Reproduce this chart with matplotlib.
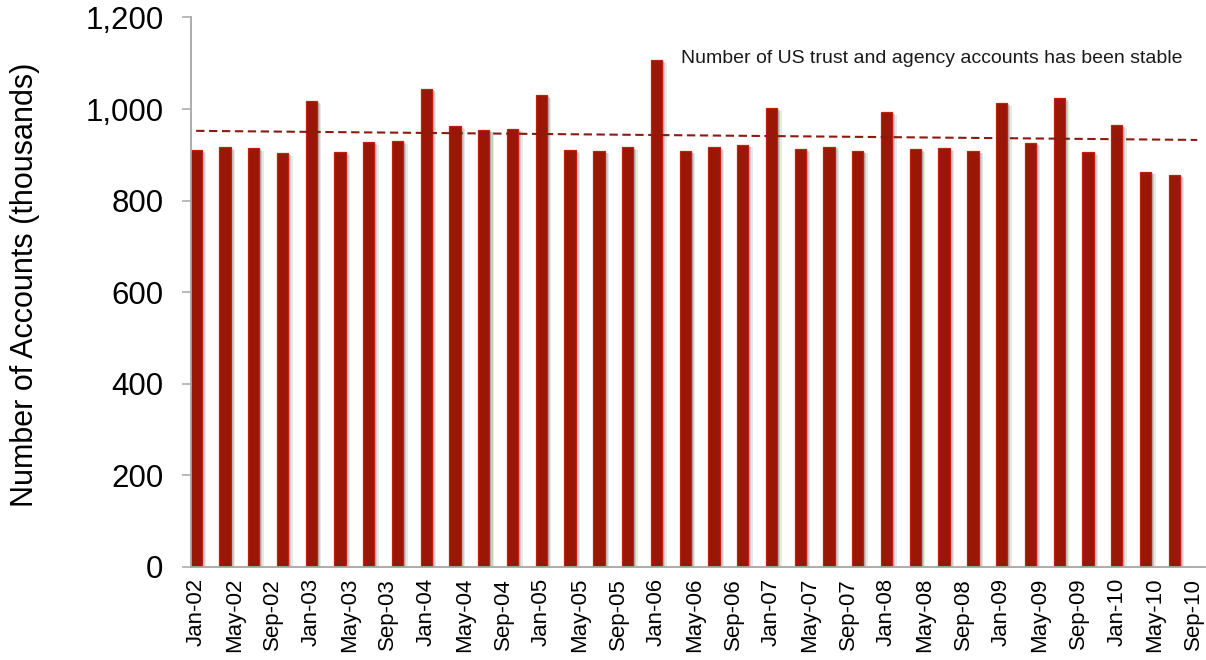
import numpy as np
import matplotlib
matplotlib.use("Agg")
import matplotlib.pyplot as plt
import matplotlib.patheffects as pe
from matplotlib.ticker import FuncFormatter

# Quarterly readings, Jan-02 through Jul-10 (thousands of accounts)
quarters = [
    "Jan-02", "Apr-02", "Jul-02", "Oct-02", "Jan-03", "Apr-03", "Jul-03", "Oct-03",
    "Jan-04", "Apr-04", "Jul-04", "Oct-04", "Jan-05", "Apr-05", "Jul-05", "Oct-05",
    "Jan-06", "Apr-06", "Jul-06", "Oct-06", "Jan-07", "Apr-07", "Jul-07", "Oct-07",
    "Jan-08", "Apr-08", "Jul-08", "Oct-08", "Jan-09", "Apr-09", "Jul-09", "Oct-09",
    "Jan-10", "Apr-10", "Jul-10",
]
accounts = [
    911, 917, 914, 904, 1018, 906, 928, 930,
    1043, 963, 955, 957, 1031, 911, 909, 917,
    1107, 909, 917, 922, 1002, 913, 918, 909,
    993, 913, 915, 909, 1013, 925, 1024, 906,
    964, 863, 855,
]
tick_labels = [
    "Jan-02", "May-02", "Sep-02", "Jan-03", "May-03", "Sep-03", "Jan-04", "May-04",
    "Sep-04", "Jan-05", "May-05", "Sep-05", "Jan-06", "May-06", "Sep-06", "Jan-07",
    "May-07", "Sep-07", "Jan-08", "May-08", "Sep-08", "Jan-09", "May-09", "Sep-09",
    "Jan-10", "May-10", "Sep-10",
]
y_ticks = [0, 200, 400, 600, 800, 1000, 1200]
note = "Number of US trust and agency accounts has been stable"
y_title = "Number of Accounts (thousands)"

MONTHS = {"Jan": 0, "Feb": 1, "Mar": 2, "Apr": 3, "May": 4, "Jun": 5,
          "Jul": 6, "Aug": 7, "Sep": 8, "Oct": 9, "Nov": 10, "Dec": 11}


def month_index(label):
    # months elapsed since Jan-02, so the axis behaves like a date axis
    return (int(label[-2:]) - 2) * 12 + MONTHS[label[:3]]


x_bars = np.array([month_index(q) for q in quarters], dtype=float)
x_ticks = np.array([month_index(t) for t in tick_labels], dtype=float)
values = np.array(accounts, dtype=float)

plt.rcParams["font.family"] = ["Liberation Sans", "DejaVu Sans"]

fig = plt.figure(figsize=(12.06, 6.6), dpi=100)
ax = fig.add_axes([0.1581, 0.1414, 0.8410, 0.8321])

bar_face = "#9a1607"
bar_edge = "#c21f0c"
shadow = [
    pe.SimplePatchShadow(offset=(1.2, -0.8), shadow_rgbFace="#707070", alpha=0.25),
    pe.SimplePatchShadow(offset=(2.2, -1.4), shadow_rgbFace="#707070", alpha=0.25),
    pe.SimplePatchShadow(offset=(3.2, -2.0), shadow_rgbFace="#909090", alpha=0.2),
    pe.Normal(),
]
bars = ax.bar(x_bars, values, width=1.18, color=bar_face,
              edgecolor=bar_edge, linewidth=0.9, zorder=2)
for b in bars:
    b.set_path_effects(shadow)

# linear trend across the full date range
slope, intercept = np.polyfit(x_bars, values, 1)
x_trend = np.array([x_bars[0], x_ticks[-1] + 0.4])
ax.plot(x_trend, slope * x_trend + intercept, color="#8c1a10", lw=1.5,
        linestyle=(0, (4, 2.2)), zorder=3)

ax.text(0.4834, 0.926, note, transform=ax.transAxes, ha="left", va="center",
        fontsize=14, color="#1a1a1a")

ax.set_xlim(-0.57, 105.2)
ax.set_ylim(0, 1200)
ax.set_yticks(y_ticks)
ax.yaxis.set_major_formatter(FuncFormatter(lambda v, p: f"{v:,.0f}"))
ax.set_xticks(x_ticks)
ax.set_xticklabels(tick_labels, rotation=90)

axis_grey = "#a6a6a6"
for side in ("top", "right"):
    ax.spines[side].set_visible(False)
for side in ("left", "bottom"):
    ax.spines[side].set_color(axis_grey)
    ax.spines[side].set_linewidth(1.3)
    ax.spines[side].set_zorder(4)

ax.tick_params(axis="y", direction="out", length=6.5, width=1.1,
               color=axis_grey, labelsize=22.5, pad=13)
ax.tick_params(axis="x", length=0, labelsize=16, pad=8)

fig.text(25 / 1206, 1 - 285 / 660, y_title, rotation=90, ha="center",
         va="center", fontsize=22)

fig.savefig("out.png", dpi=100)
